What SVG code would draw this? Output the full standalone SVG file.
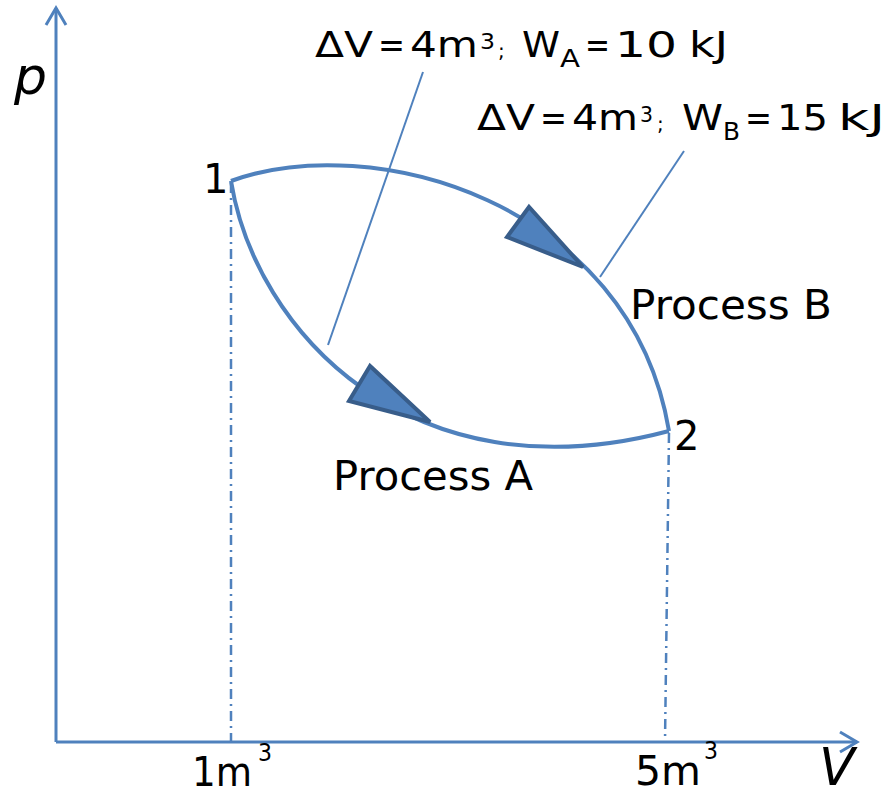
<svg xmlns="http://www.w3.org/2000/svg" width="889" height="796" viewBox="0 0 889 796">
<style>
text{font-family:"DejaVu Sans","Liberation Sans",sans-serif;fill:#000}
.big{font-size:36px}
.sm{font-size:20px}
.sup{font-size:22px}
.sub{font-size:24px}
.lbl{font-size:40px}
.ax{fill:none;stroke:#4f81bd;stroke-width:3}
.curve{fill:none;stroke:#4f81bd;stroke-width:4}
.lead{fill:none;stroke:#4f81bd;stroke-width:2}
.guide{fill:none;stroke:#4f81bd;stroke-width:2.5;stroke-dasharray:10 5 2 5}
.head{fill:#4f81bd;stroke:#385d8a;stroke-width:4;stroke-linejoin:miter}
.it{font-size:52px;font-style:italic}
</style>
<rect width="889" height="796" fill="#fff"/>
<g id="axes">
  <line class="ax" x1="56" y1="742" x2="56" y2="8"/>
  <polyline class="ax" points="46,25 56,8 66,25"/>
  <line class="ax" x1="56" y1="742" x2="857" y2="742"/>
  <polyline class="ax" points="840,732 857,742 840,752"/>
  <text class="it" x="14" y="94">p</text>
  <text class="it" x="819" y="785" font-size="50">V</text>
</g>
<g id="guides">
  <line class="guide" x1="231" y1="183" x2="231" y2="742"/>
  <line class="guide" x1="669" y1="433" x2="665" y2="742"/>
</g>
<g id="connectors">
  <path id="process-b-curve" class="curve" d="M231,181 C370,130 630,200 669,431"/>
  <path id="process-a-curve" class="curve" d="M231,181 C255,330 410,500 669,431"/>
  <polygon class="head" points="529,207 507,237 583,267"/>
  <polygon class="head" points="370,366 349,401 430,422"/>
  <line class="lead" x1="423" y1="72" x2="328" y2="345"/>
  <line class="lead" x1="684" y1="151" x2="600" y2="277"/>
</g>
<g id="node-1">
  <text class="lbl" x="203" y="193" font-size="38">1</text>
</g>
<g id="node-2">
  <text class="lbl" x="674" y="450">2</text>
</g>
<g id="label-process-a">
  <text class="lbl" x="333" y="490" textLength="200" lengthAdjust="spacingAndGlyphs">Process A</text>
</g>
<g id="label-process-b">
  <text class="lbl" x="630" y="319" textLength="202" lengthAdjust="spacingAndGlyphs">Process B</text>
</g>
<g id="label-work-a">
  <text class="big" x="315" y="57" textLength="58" lengthAdjust="spacingAndGlyphs">ΔV</text>
  <text class="big" x="378" y="57" textLength="27" lengthAdjust="spacingAndGlyphs">=</text>
  <text class="big" x="410" y="57" textLength="68" lengthAdjust="spacingAndGlyphs">4m</text>
  <text class="sup" x="480" y="49" textLength="15" lengthAdjust="spacingAndGlyphs">3</text>
  <text class="sm" x="498" y="58">;</text>
  <text class="big" x="522" y="57" textLength="38" lengthAdjust="spacingAndGlyphs">W</text>
  <text class="sub" x="560" y="67" textLength="20" lengthAdjust="spacingAndGlyphs">A</text>
  <text class="big" x="585" y="57" textLength="25" lengthAdjust="spacingAndGlyphs">=</text>
  <text class="big" x="615" y="57" textLength="62" lengthAdjust="spacingAndGlyphs">10</text>
  <text class="big" x="689" y="57" textLength="39" lengthAdjust="spacingAndGlyphs">kJ</text>
</g>
<g id="label-work-b">
  <text class="big" x="477" y="130" textLength="58" lengthAdjust="spacingAndGlyphs">ΔV</text>
  <text class="big" x="540" y="130" textLength="27" lengthAdjust="spacingAndGlyphs">=</text>
  <text class="big" x="572" y="130" textLength="66" lengthAdjust="spacingAndGlyphs">4m</text>
  <text class="sup" x="640" y="122" textLength="13" lengthAdjust="spacingAndGlyphs">3</text>
  <text class="sm" x="657" y="131">;</text>
  <text class="big" x="682" y="130" textLength="41" lengthAdjust="spacingAndGlyphs">W</text>
  <text class="sub" x="723" y="140" textLength="17" lengthAdjust="spacingAndGlyphs">B</text>
  <text class="big" x="745" y="130" textLength="27" lengthAdjust="spacingAndGlyphs">=</text>
  <text class="big" x="777" y="130" textLength="51" lengthAdjust="spacingAndGlyphs">15</text>
  <text class="big" x="838" y="130" textLength="47" lengthAdjust="spacingAndGlyphs">kJ</text>
</g>
<g id="tick-1m3">
  <text class="lbl" x="192" y="786" textLength="60" lengthAdjust="spacingAndGlyphs">1m</text>
  <text x="258" y="761" font-size="24" textLength="14" lengthAdjust="spacingAndGlyphs">3</text>
</g>
<g id="tick-5m3">
  <text class="lbl" x="635" y="785" textLength="66" lengthAdjust="spacingAndGlyphs">5m</text>
  <text x="704" y="759" font-size="24" textLength="14" lengthAdjust="spacingAndGlyphs">3</text>
</g>
</svg>
